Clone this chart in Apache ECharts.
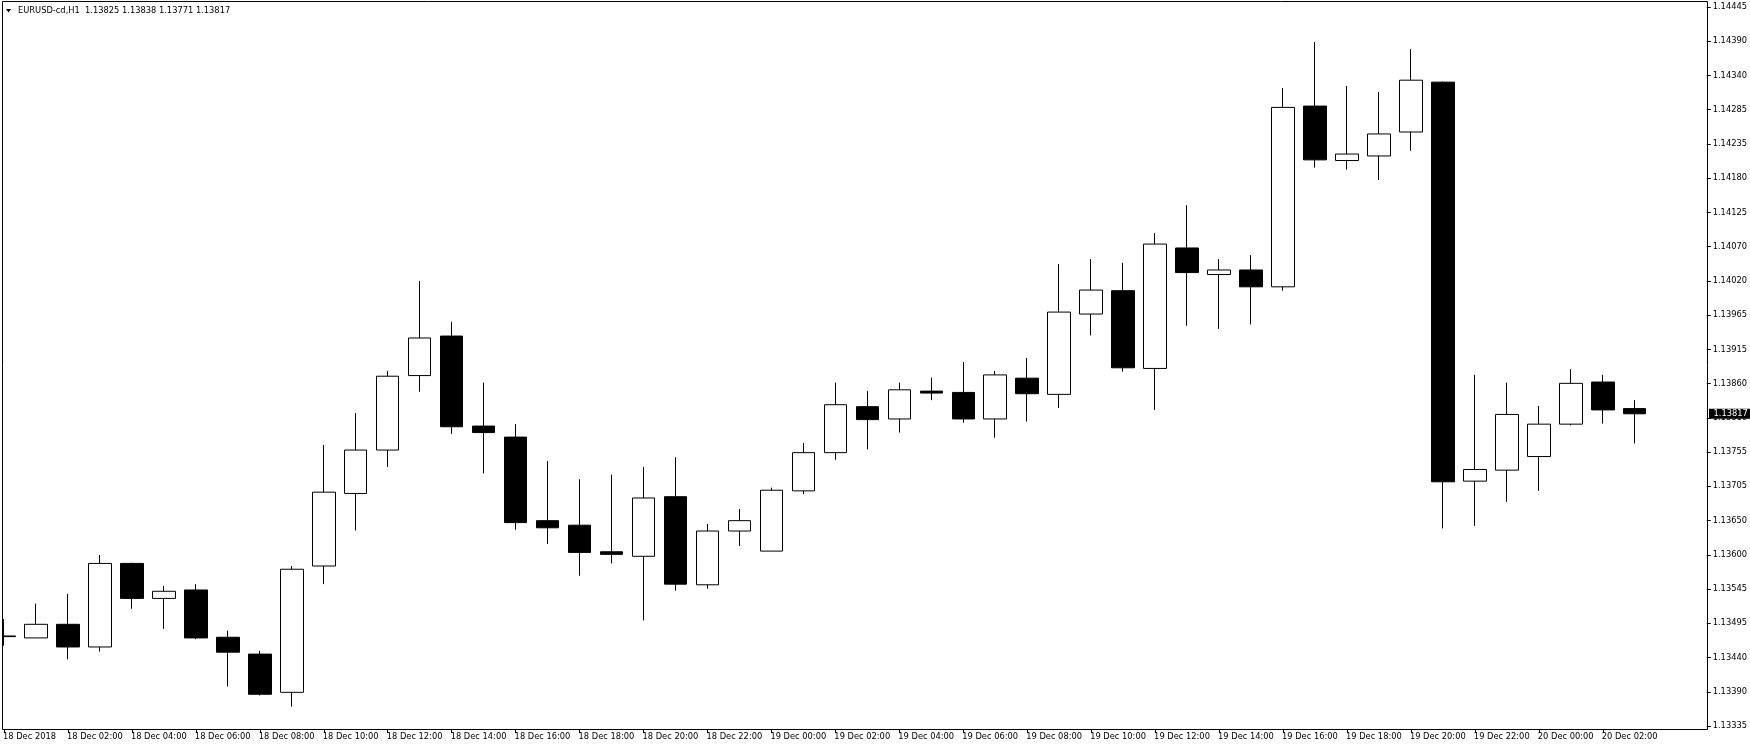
<!DOCTYPE html>
<html><head><meta charset="utf-8">
<script src="https://cdn.jsdelivr.net/npm/echarts@6/dist/echarts.min.js"></script>
<style>html,body{margin:0;padding:0;background:#fff}#c{width:1750px;height:750px}</style>
</head><body><div id="c"></div>
<script>
const symbolName = 'EURUSD-cd,H1';
const categories = [
 '18 Dec 2018','18 Dec 01:00','18 Dec 02:00','18 Dec 03:00','18 Dec 04:00','18 Dec 05:00','18 Dec 06:00','18 Dec 07:00',
 '18 Dec 08:00','18 Dec 09:00','18 Dec 10:00','18 Dec 11:00','18 Dec 12:00','18 Dec 13:00','18 Dec 14:00','18 Dec 15:00',
 '18 Dec 16:00','18 Dec 17:00','18 Dec 18:00','18 Dec 19:00','18 Dec 20:00','18 Dec 21:00','18 Dec 22:00','18 Dec 23:00',
 '19 Dec 00:00','19 Dec 01:00','19 Dec 02:00','19 Dec 03:00','19 Dec 04:00','19 Dec 05:00','19 Dec 06:00','19 Dec 07:00',
 '19 Dec 08:00','19 Dec 09:00','19 Dec 10:00','19 Dec 11:00','19 Dec 12:00','19 Dec 13:00','19 Dec 14:00','19 Dec 15:00',
 '19 Dec 16:00','19 Dec 17:00','19 Dec 18:00','19 Dec 19:00','19 Dec 20:00','19 Dec 21:00','19 Dec 22:00','19 Dec 23:00',
 '20 Dec 00:00','20 Dec 01:00','20 Dec 02:00','20 Dec 03:00'
];
const opens = [
 1.13474,1.13471,1.13492,1.13457,1.13586,1.13532,1.13545,1.13472,1.13446,1.13387,
 1.13582,1.13694,1.13761,1.13876,1.13937,1.13798,1.13781,1.13652,1.13645,1.13604,
 1.13597,1.13689,1.13553,1.13636,1.13605,1.13698,1.13757,1.13828,1.13809,1.13852,
 1.13850,1.13809,1.13872,1.13847,1.13971,1.14007,1.13887,1.14073,1.14032,1.14039,
 1.14013,1.14292,1.14208,1.14215,1.14252,1.14329,1.13713,1.13730,1.13751,1.13801,
 1.13866,1.13825
];
const closes = [
 1.13473,1.13492,1.13457,1.13586,1.13532,1.13543,1.13471,1.13449,1.13384,1.13577,
 1.13696,1.13761,1.13875,1.13934,1.13797,1.13788,1.13649,1.13641,1.13603,1.13600,
 1.13687,1.13554,1.13636,1.13652,1.13699,1.13757,1.13831,1.13808,1.13854,1.13849,
 1.13809,1.13877,1.13848,1.13974,1.14008,1.13888,1.14079,1.14035,1.14039,1.14013,
 1.14290,1.14209,1.14218,1.14249,1.14332,1.13712,1.13731,1.13816,1.13801,1.13864,
 1.13823,1.13817
];
const lows = [
 1.13459,1.13471,1.13438,1.13450,1.13516,1.13485,1.13469,1.13396,1.13382,1.13365,
 1.13554,1.13637,1.13735,1.13851,1.13786,1.13725,1.13638,1.13616,1.13567,1.13586,
 1.13498,1.13544,1.13547,1.13613,1.13605,1.13693,1.13746,1.13762,1.13788,1.13838,
 1.13803,1.13780,1.13805,1.13826,1.13938,1.13882,1.13823,1.13953,1.13948,1.13955,
 1.14007,1.14197,1.14194,1.14178,1.14223,1.13640,1.13644,1.13681,1.13698,1.13799,
 1.13802,1.13771
];
const highs = [
 1.13500,1.13524,1.13539,1.13599,1.13587,1.13551,1.13554,1.13482,1.13451,1.13582,
 1.13769,1.13818,1.13883,1.14022,1.13959,1.13865,1.13801,1.13744,1.13716,1.13723,
 1.13735,1.13750,1.13647,1.13670,1.13703,1.13772,1.13865,1.13852,1.13865,1.13873,
 1.13897,1.13883,1.13903,1.14048,1.14056,1.14050,1.14096,1.14139,1.14056,1.14062,
 1.14320,1.14391,1.14323,1.14314,1.14380,1.14330,1.13877,1.13865,1.13829,1.13886,
 1.13877,1.13838
];
const yTickLabels = [
 '1.14445','1.14390','1.14340','1.14285','1.14235','1.14180','1.14125','1.14070','1.14020','1.13965','1.13915',
 '1.13860','1.13810','1.13755','1.13705','1.13650','1.13600','1.13545','1.13495','1.13440','1.13390','1.13335'
];
const yMin = 1.13335, yMax = 1.14445;
const yInterval = (yMax - yMin) / (yTickLabels.length - 1);

const FONT = 'DejaVu Sans';
const FS = 8.3;
const candleData = opens.map((o, i) => [o, closes[i], lows[i], highs[i]]);
const xData = categories.concat(['', '']);
const last = candleData.length - 1;
const fmt = v => v.toFixed(5);
const titleText = symbolName + '  ' + fmt(opens[last]) + ' ' + fmt(highs[last]) + ' ' + fmt(lows[last]) + ' ' + fmt(closes[last]);
const showTick = (i, v) => i % 2 === 0 && v !== '';

const chart = echarts.init(document.getElementById('c'), null, {renderer: 'canvas'});
chart.setOption({
  animation: false,
  backgroundColor: '#fff',
  grid: {left: 3.3, top: 7, width: 1696, height: 719, containLabel: false},
  xAxis: {
    type: 'category', data: xData, boundaryGap: false, offset: 3,
    axisLine: {show: false},
    axisTick: {show: true, interval: showTick, length: 4, lineStyle: {color: '#000', width: 1}},
    axisLabel: {interval: showTick, align: 'left', margin: 4, fontFamily: FONT, fontSize: FS, color: '#000', padding: [0,0,0,-1]},
    splitLine: {show: false}
  },
  yAxis: {
    type: 'value', position: 'right', min: yMin, max: yMax, interval: yInterval, offset: 8, scale: true,
    axisLine: {show: false},
    axisTick: {show: true, length: 4, lineStyle: {color: '#000', width: 1}},
    axisLabel: {margin: 6, fontFamily: FONT, fontSize: FS, color: '#000',
      formatter: v => { const k = Math.round((v - yMin) / yInterval); return yTickLabels[yTickLabels.length - 1 - k] || ''; }},
    splitLine: {show: false}
  },
  series: [{
    type: 'candlestick', data: candleData, barWidth: 23, clip: false,
    itemStyle: {color: '#fff', color0: '#000', borderColor: '#000', borderColor0: '#000', borderWidth: 1},
    emphasis: {disabled: true}
  }],
  graphic: [
    {id: 'mask', type: 'rect', z: 100, shape: {x: 0, y: 0, width: 2.5, height: 750}, style: {fill: '#fff'}, silent: true},
    {id: 'frame', type: 'rect', z: 101, shape: {x: 2.5, y: 1.5, width: 1705, height: 728}, style: {fill: null, stroke: '#000', lineWidth: 1}, silent: true},
    {id: 'tri', type: 'polygon', z: 101, shape: {points: [[6, 9], [11, 9], [8.5, 12.5]]}, style: {fill: '#000'}, silent: true},
    {id: 'title', type: 'text', z: 101, x: 18, y: 11, style: {text: titleText, fill: '#000', font: FS + 'px "DejaVu Sans"', verticalAlign: 'middle'}, silent: true}
  ]
});
// current price box on the price scale, placed through the axis scale
const yPix = chart.convertToPixel({yAxisIndex: 0}, closes[last]);
chart.setOption({
  graphic: [
    {id: 'pbox', type: 'rect', z: 110, shape: {x: 1709, y: yPix - 5, width: 41, height: 10}, style: {fill: '#000'}, silent: true},
    {id: 'ptxt', type: 'text', z: 111, x: 1713.5, y: yPix, style: {text: fmt(closes[last]), fill: '#fff', font: FS + 'px "DejaVu Sans"', verticalAlign: 'middle'}, silent: true}
  ]
});
</script></body></html>
